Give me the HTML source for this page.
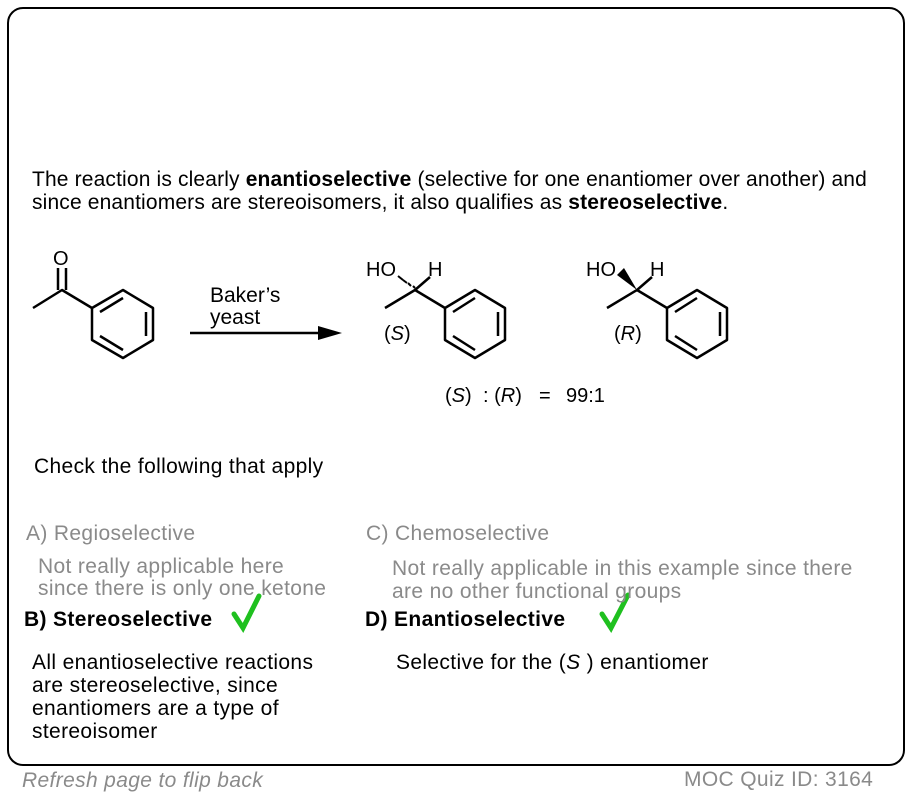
<!DOCTYPE html>
<html><head><style>
body{margin:0;width:912px;height:798px;background:#fff;font-family:"Liberation Sans",Arial,sans-serif;position:relative;overflow:hidden}
.box{position:absolute;left:7px;top:7px;width:894px;height:755px;border:2.5px solid #000;border-radius:16px}
.t{position:absolute;font-size:21px;color:#000;white-space:nowrap;line-height:23px;letter-spacing:0.35px}
.m{letter-spacing:0.15px}
.g{color:#8a8a8a}
</style></head><body>
<div class="box"></div>
<div class="t m" style="left:32px;top:168px">The reaction is clearly <b>enantioselective</b> (selective for one enantiomer over another) and</div>
<div class="t m" style="left:32px;top:191px">since enantiomers are stereoisomers, it also qualifies as <b>stereoselective</b>.</div>
<svg style="position:absolute;left:0;top:0" width="912" height="798" font-family="Liberation Sans, Arial, sans-serif">
<g stroke="#000" stroke-width="2.5" fill="none" stroke-linejoin="round">
<polyline points="33,308 62,290 92,308"/>
<line x1="58" y1="290" x2="58" y2="268"/><line x1="66" y1="290" x2="66" y2="268"/>
<polygon points="92,308 123,290 153,308 153,340 123,358 92,340"/>
<line x1="100" y1="312" x2="123" y2="298"/><line x1="146" y1="312" x2="146" y2="336"/><line x1="100" y1="336" x2="123" y2="350"/>
<line x1="190" y1="333" x2="330" y2="333"/>
<polyline points="385,308 415,290 445,308"/>
<line x1="415" y1="290" x2="430" y2="277"/>
<polygon points="445,308 475,290 505,308 505,340 475,358 445,340"/>
<line x1="453" y1="312" x2="475" y2="298"/><line x1="498" y1="312" x2="498" y2="336"/><line x1="453" y1="336" x2="475" y2="350"/>
<polyline points="607,308 637,290 667,308"/>
<line x1="637" y1="290" x2="652" y2="277"/>
<polygon points="667,308 697,290 727,308 727,340 697,358 667,340"/>
<line x1="675" y1="312" x2="697" y2="298"/><line x1="720" y1="312" x2="720" y2="336"/><line x1="675" y1="336" x2="697" y2="350"/>
</g>
<polygon points="342,333 318,326 318,340" fill="#000"/>
<g stroke="#000" stroke-width="2">
<line x1="413" y1="286" x2="415" y2="288"/><line x1="408" y1="283" x2="411" y2="286"/><line x1="403" y1="280" x2="407" y2="283"/><line x1="398" y1="276" x2="403" y2="280"/>
</g>
<polygon points="637,290 617,275 624,268" fill="#000"/>
<g font-size="20" fill="#000">
<text x="53" y="265">O</text>
<text x="210" y="302" font-size="21">Baker’s</text>
<text x="210" y="324" font-size="21">yeast</text>
<text x="366" y="276">HO</text><text x="428" y="276">H</text>
<text x="384" y="340">(<tspan font-style="italic">S</tspan>)</text>
<text x="586" y="276">HO</text><text x="650" y="276">H</text>
<text x="614" y="340">(<tspan font-style="italic">R</tspan>)</text>
<text x="445" y="402">(<tspan font-style="italic">S</tspan>)</text>
<text x="483" y="402">: (<tspan font-style="italic">R</tspan>)</text>
<text x="539" y="402">=</text>
<text x="566" y="402">99:1</text>
</g>
<g stroke="#1fc01f" stroke-width="5" fill="none" stroke-linecap="round">
<path d="M234,614 L243,628 L259,596"/>
<path d="M602,614 L611,628 L628,595"/>
</g>
</svg>
<div class="t" style="left:34px;top:455px">Check the following that apply</div>
<div class="t g" style="left:26px;top:522px">A) Regioselective</div>
<div class="t g" style="left:38px;top:555px">Not really applicable here</div>
<div class="t g" style="left:38px;top:577px">since there is only one ketone</div>
<div class="t" style="left:24px;top:608px"><b>B) Stereoselective</b></div>
<div class="t g" style="left:366px;top:522px">C) Chemoselective</div>
<div class="t g" style="left:392px;top:557px">Not really applicable in this example since there</div>
<div class="t g" style="left:392px;top:580px">are no other functional groups</div>
<div class="t" style="left:365px;top:608px"><b>D) Enantioselective</b></div>
<div class="t" style="left:32px;top:651px">All enantioselective reactions</div>
<div class="t" style="left:32px;top:674px">are stereoselective, since</div>
<div class="t" style="left:32px;top:697px">enantiomers are a type of</div>
<div class="t" style="left:32px;top:720px">stereoisomer</div>
<div class="t" style="left:396px;top:651px">Selective for the (<i>S</i> ) enantiomer</div>
<div class="t g" style="left:22px;top:769px;font-style:italic">Refresh page to flip back</div>
<div class="t g" style="left:684px;top:768px">MOC Quiz ID: 3164</div>
</body></html>
